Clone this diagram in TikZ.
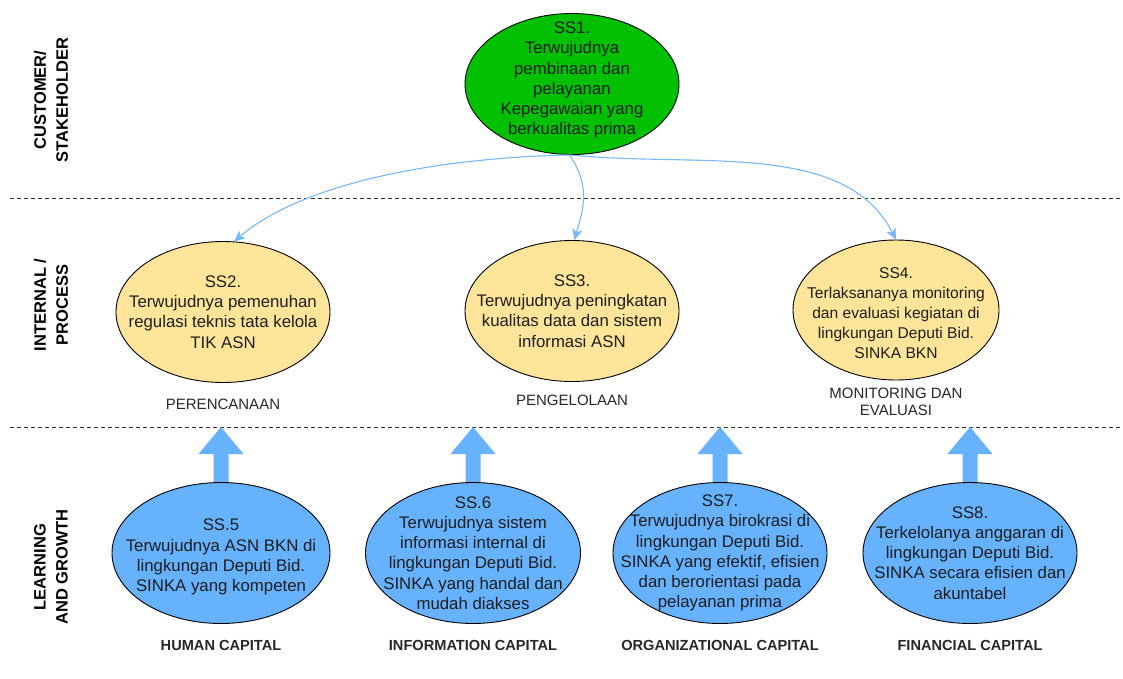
\documentclass[tikz,border=0pt]{standalone}
\usepackage{fontspec}
\setmainfont{Liberation Sans}
\usetikzlibrary{shapes.geometric,arrows.meta}
\definecolor{ssgreen}{RGB}{0,192,0}
\definecolor{ssyellow}{RGB}{255,229,153}
\definecolor{ssblue}{RGB}{102,178,255}
\definecolor{linkblue}{RGB}{120,184,252}
\definecolor{txt}{RGB}{30,30,30}
\definecolor{lbl}{RGB}{40,40,40}
\tikzset{
  goal/.style={ellipse, draw=black, line width=0.9pt, minimum width=214pt, minimum height=141pt,
    inner sep=0pt},
  goaltext/.style={align=center, inner sep=0pt, text=txt, font=\fontsize{16.8}{20.2}\selectfont},
  goaltextsmall/.style={goaltext, font=\fontsize{15.6}{20}\selectfont},
  persp/.style={align=center, text=lbl, font=\fontsize{15}{17.5}\selectfont},
  perspbold/.style={align=center, text=lbl, font=\bfseries\fontsize{14.6}{17}\selectfont},
  sidelabel/.style={rotate=90, align=center, text=black, font=\bfseries\fontsize{16.5}{22}\selectfont},
  divider/.style={draw=black!80, line width=0.9pt, dash pattern=on 4pt off 3pt},
  link/.style={draw=linkblue, line width=1.1pt, -{Stealth[length=11pt,width=10pt,inset=3pt]}},
}
\newcommand\blockarrow[1]{%
  \fill[ssblue] (#1) ++(-7.5,4) -- ++(0,-33) -- ++(-15,0) -- ++(22.5,-27) -- ++(22.5,27) -- ++(-15,0) -- ++(0,33) -- cycle;}
\begin{document}
\begin{tikzpicture}[x=1pt,y=-1pt]
\path[use as bounding box, fill=white] (0,0) rectangle (1123,678);

% dividers
\coordinate (d1a) at (10,198); \coordinate (d1b) at (1123,198);
\coordinate (d2a) at (10,427); \coordinate (d2b) at (1123,427);
\draw[divider] (d1a) -- (d1b);
\draw[divider] (d2a) -- (d2b);

% side labels
\node[sidelabel] (lab1) at (51,100) {CUSTOMER/\\STAKEHOLDER};
\node[sidelabel] (lab2) at (51,305) {INTERNAL /\\PROCESS};
\node[sidelabel] (lab3) at (51,567) {LEARNING\\AND GROWTH};

% customer
\node[goal, fill=ssgreen] (ss1) at (572,84) {};
\node[goaltext] (ss1t) at ([yshift=4]ss1.center) {SS1.\\Terwujudnya\\pembinaan dan\\pelayanan\\Kepegawaian yang\\berkualitas prima};

% internal
\node[goal, fill=ssyellow] (ss2) at (223,312) {};
\node[goaltext] (ss2t) at (ss2.center) {SS2.\\Terwujudnya pemenuhan\\regulasi teknis tata kelola\\TIK ASN};
\node[goal, fill=ssyellow] (ss3) at (572,311) {};
\node[goaltext] (ss3t) at (ss3.center) {SS3.\\Terwujudnya peningkatan\\kualitas data dan sistem\\informasi ASN};
\node[goal, fill=ssyellow, minimum width=206pt, minimum height=140pt] (ss4) at (896,310) {};
\node[goaltextsmall] (ss4t) at ([yshift=-3]ss4.center) {SS4.\\Terlaksananya monitoring\\dan evaluasi kegiatan di\\lingkungan Deputi Bid.\\SINKA BKN};

\node[persp] (p2) at (223,404) {PERENCANAAN};
\node[persp] (p3) at (572,400) {PENGELOLAAN};
\node[persp] (p4) at (896,402) {MONITORING DAN\\EVALUASI};

% block arrows (drawn under the ellipses)
\coordinate (ss5n) at (221,483);
\coordinate (ss6n) at (473,483);
\coordinate (ss7n) at (720,483);
\coordinate (ss8n) at (970,483);
\blockarrow{ss5n}
\blockarrow{ss6n}
\blockarrow{ss7n}
\blockarrow{ss8n}

% learning and growth
\node[goal, fill=ssblue, minimum width=218pt] (ss5) at (221,553) {};
\node[goaltext] (ss5t) at ([yshift=-4]ss5.center) {SS.5\\Terwujudnya ASN BKN di\\lingkungan Deputi Bid.\\SINKA yang kompeten};
\node[goal, fill=ssblue, minimum width=215pt] (ss6) at (473,553) {};
\node[goaltext] (ss6t) at (ss6.center) {SS.6\\Terwujudnya sistem\\informasi internal di\\lingkungan Deputi Bid.\\SINKA yang handal dan\\mudah diakses};
\node[goal, fill=ssblue] (ss7) at (720,553) {};
\node[goaltext] (ss7t) at (ss7.center) {SS7.\\Terwujudnya birokrasi di\\lingkungan Deputi Bid.\\SINKA yang efektif, efisien\\dan berorientasi pada\\pelayanan prima};
\node[goal, fill=ssblue] (ss8) at (970,553) {};
\node[goaltext] (ss8t) at (ss8.center) {SS8.\\Terkelolanya anggaran di\\lingkungan Deputi Bid.\\SINKA secara efisien dan\\akuntabel};

\node[perspbold] (c5) at (221,645) {HUMAN CAPITAL};
\node[perspbold] (c6) at (473,645) {INFORMATION CAPITAL};
\node[perspbold] (c7) at (720,645) {ORGANIZATIONAL CAPITAL};
\node[perspbold] (c8) at (970,645) {FINANCIAL CAPITAL};

% curved links
\draw[link] (ss1.268) .. controls (430,158) and (300,185) .. (ss2.81);
\draw[link] (ss1.268) .. controls (592,188) and (582,212) .. (ss3.88);
\draw[link] (ss1.268) .. controls (700,168) and (845,140) .. (ss4.north);
\end{tikzpicture}
\end{document}
